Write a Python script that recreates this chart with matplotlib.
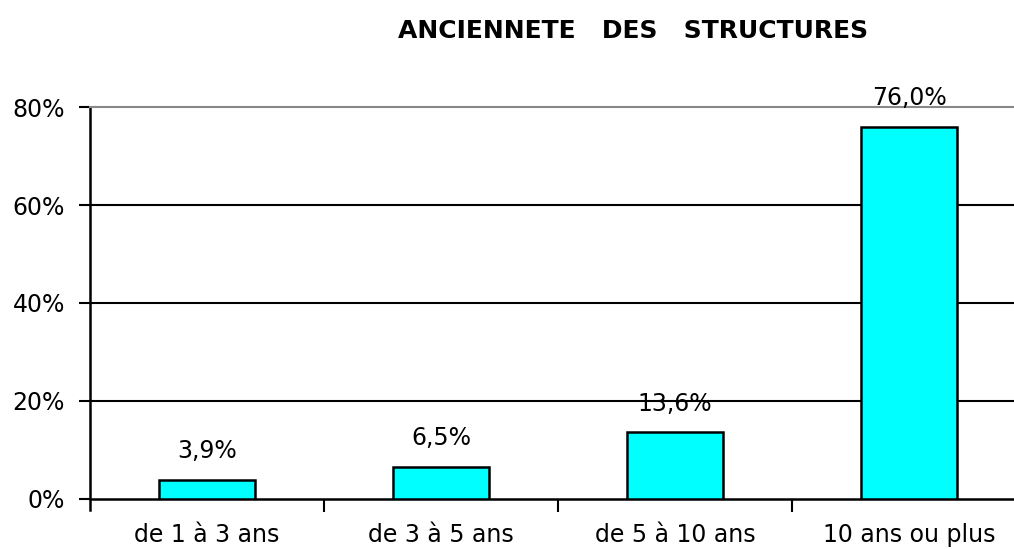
import matplotlib.pyplot as plt

categories = ['de 1 à 3 ans', 'de 3 à 5 ans', 'de 5 à 10 ans', '10 ans ou plus']
values = [3.9, 6.5, 13.6, 76.0]
yticks = [0, 20, 40, 60, 80]
ytick_labels = ['0%', '20%', '40%', '60%', '80%']

fig = plt.figure(figsize=(10.14, 5.49), dpi=100)
ax = fig.add_axes([90 / 1014, 50 / 549, 936 / 1014, 392 / 549])

x = range(len(categories))
ax.bar(x, values, width=0.41, color='#00ffff', edgecolor='black', linewidth=1.8, zorder=3)

for xi, v in zip(x, values):
    ax.annotate(f"{v:.1f}%".replace('.', ','), (xi, v), xytext=(0, 12),
                textcoords='offset points', ha='center', va='bottom',
                fontsize=17, clip_on=False)

ax.set_xlim(-0.5, len(categories) - 0.5)
ax.set_ylim(0, 80)

# gridlines (80% line drawn by the grey top spine)
for yv in yticks[1:-1]:
    ax.axhline(yv, color='black', linewidth=1.5, zorder=1)

ax.set_yticks(yticks)
ax.set_yticklabels(ytick_labels, fontsize=17)
ax.set_xticks([i + 0.5 for i in range(len(categories) - 1)])
ax.set_xticklabels([])
ax.set_xticks(list(x), minor=True)
ax.set_xticklabels(categories, minor=True, fontsize=17)
ax.tick_params(axis='x', which='minor', length=0, pad=17)
ax.tick_params(axis='x', which='major', length=9, width=1.5, direction='out')
ax.tick_params(axis='y', length=8, width=1.5, pad=10)

for side in ['left', 'bottom']:
    ax.spines[side].set_linewidth(1.8)
ax.spines['left'].set_bounds(-2.2, 80)
ax.spines['top'].set_color('#888888')
ax.spines['top'].set_linewidth(1.5)
ax.spines['right'].set_visible(False)

fig.text(633 / 1014, 1 - 31 / 549, 'ANCIENNETE   DES   STRUCTURES',
         ha='center', va='center', fontsize=18, fontweight='bold')

fig.savefig('out.png', dpi=100)
